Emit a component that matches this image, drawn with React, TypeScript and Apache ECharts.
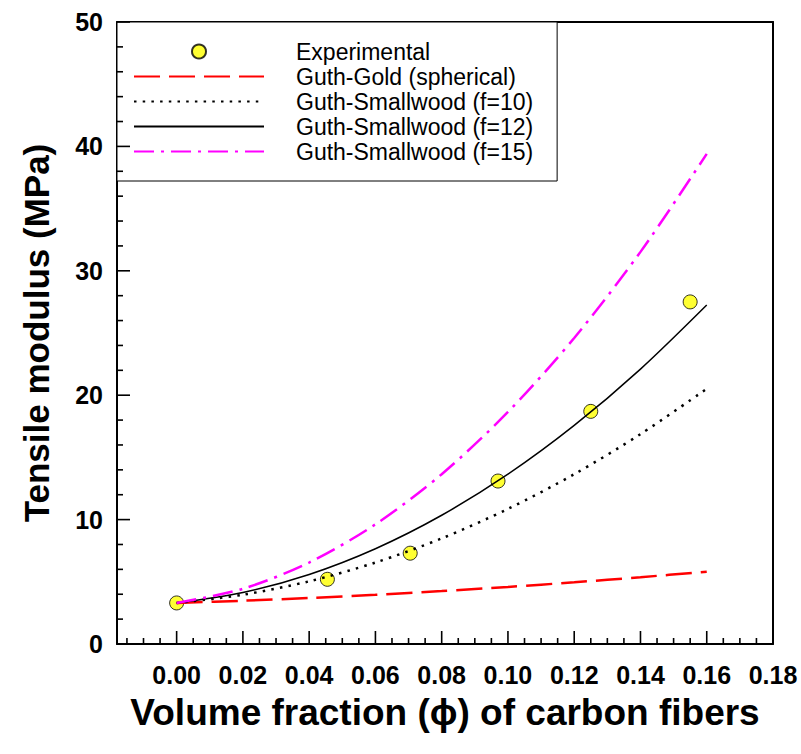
import React, { useEffect, useRef } from 'react';
import * as echarts from 'echarts';

// Experimental data
const expPhi = [0, 0.0455, 0.0705, 0.097, 0.125, 0.155];
const expModulus = [3.3, 5.2, 7.3, 13.1, 18.7, 27.5];

// Model curves
const modelPhi = [0, 0.02, 0.04, 0.06, 0.08, 0.1, 0.12, 0.14, 0.16];
const guthGold = [3.3, 3.48, 3.7, 3.96, 4.26, 4.59, 4.96, 5.37, 5.81];
const guthSmallwood10 = [3.3, 3.96, 5.04, 6.55, 8.49, 10.86, 13.65, 16.87, 20.52];
const guthSmallwood12 = [3.3, 4.14, 5.59, 7.66, 10.35, 13.65, 17.57, 22.1, 27.25];
const guthSmallwood15 = [3.3, 4.44, 6.55, 9.62, 13.65, 18.65, 24.6, 31.52, 39.4];

const seriesNames = [
  'Experimental',
  'Guth-Gold (spherical)',
  'Guth-Smallwood (f=10)',
  'Guth-Smallwood (f=12)',
  'Guth-Smallwood (f=15)',
];

// Axis ticks (drawn inward, as in the reference)
const xMajorTicks = [0, 0.02, 0.04, 0.06, 0.08, 0.1, 0.12, 0.14, 0.16, 0.18];
const xMinorTicks = [
  -0.015, -0.01, -0.005,
  0.005, 0.01, 0.015, 0.025, 0.03, 0.035, 0.045, 0.05, 0.055, 0.065, 0.07, 0.075,
  0.085, 0.09, 0.095, 0.105, 0.11, 0.115, 0.125, 0.13, 0.135, 0.145, 0.15, 0.155,
  0.165, 0.17, 0.175,
];
const yMajorTicks = [0, 10, 20, 30, 40, 50];
const yMinorTicks = [2, 4, 6, 8, 12, 14, 16, 18, 22, 24, 26, 28, 32, 34, 36, 38, 42, 44, 46, 48];

const X_MIN = -0.018;
const X_MAX = 0.18;
const Y_MIN = 0;
const Y_MAX = 50;

const FONT = "Arial, 'Liberation Sans', Helvetica, sans-serif";

const pair = (xs: number[], ys: number[]) => xs.map((x, i) => [x, ys[i]]);

export default function App() {
  const ref = useRef<HTMLDivElement>(null);

  useEffect(() => {
    const chart = echarts.init(ref.current!, null, { renderer: 'svg' });
    const lineSeries = (name: string, ys: number[], lineStyle: any) => ({
      name,
      type: 'line',
      xAxisIndex: 0,
      yAxisIndex: 0,
      data: pair(modelPhi, ys),
      smooth: 0.3,
      symbol: 'none',
      showSymbol: false,
      lineStyle,
      itemStyle: { color: lineStyle.color },
      z: 3,
    });
    const frameLine = () => ({ show: true, onZero: false, lineStyle: { color: '#000', width: 2 } });
    chart.setOption({
      animation: false,
      backgroundColor: '#fff',
      grid: { left: 117, right: 28, top: 22, bottom: 110, containLabel: false },
      legend: {
        orient: 'vertical',
        left: 117,
        top: 22,
        padding: [17, 24, 17, 16],
        itemWidth: 130,
        itemHeight: 14,
        itemGap: 0,
        backgroundColor: '#fff',
        borderColor: '#000',
        borderWidth: 1,
        borderRadius: 0,
        selectedMode: false,
        z: 5,
        textStyle: {
          fontSize: 23,
          lineHeight: 25,
          color: '#000',
          fontFamily: FONT,
          padding: [0, 0, 0, 27],
        },
        data: [
          { name: seriesNames[0], icon: 'circle' },
          { name: seriesNames[1], itemStyle: { opacity: 0 } },
          { name: seriesNames[2], itemStyle: { opacity: 0 } },
          { name: seriesNames[3], itemStyle: { opacity: 0 } },
          { name: seriesNames[4], itemStyle: { opacity: 0 } },
        ],
      },
      xAxis: [
        {
          type: 'value',
          min: X_MIN,
          max: X_MAX,
          splitNumber: 10,
          position: 'bottom',
          name: 'Volume fraction (\u03d5) of carbon fibers',
          nameLocation: 'middle',
          nameGap: 50,
          nameTextStyle: { fontSize: 37, fontWeight: 'bold', color: '#000', fontFamily: FONT },
          axisLine: frameLine(),
          axisTick: { show: false },
          splitLine: { show: false },
          axisLabel: {
            showMinLabel: false,
            margin: 18,
            fontSize: 25,
            fontWeight: 'bold',
            color: '#000',
            fontFamily: FONT,
            formatter: (v: number) => {
              const k = Math.round(v / 0.02);
              return Math.abs(v - k * 0.02) < 1e-9 && v >= 0 ? v.toFixed(2) : '';
            },
          },
        },
        {
          type: 'value',
          min: X_MIN,
          max: X_MAX,
          position: 'top',
          axisLine: frameLine(),
          axisTick: { show: false },
          axisLabel: { show: false },
          splitLine: { show: false },
        },
      ],
      yAxis: [
        {
          type: 'value',
          min: Y_MIN,
          max: Y_MAX,
          interval: 10,
          position: 'left',
          name: 'Tensile modulus (MPa)',
          nameLocation: 'middle',
          nameGap: 63,
          nameRotate: 90,
          nameTextStyle: { fontSize: 35, fontWeight: 'bold', color: '#000', fontFamily: FONT },
          axisLine: frameLine(),
          axisTick: { show: false },
          splitLine: { show: false },
          axisLabel: {
            margin: 14,
            fontSize: 25,
            fontWeight: 'bold',
            color: '#000',
            fontFamily: FONT,
          },
        },
        {
          type: 'value',
          min: Y_MIN,
          max: Y_MAX,
          position: 'right',
          axisLine: frameLine(),
          axisTick: { show: false },
          axisLabel: { show: false },
          splitLine: { show: false },
        },
      ],
      series: [
        {
          name: seriesNames[0],
          type: 'scatter',
          xAxisIndex: 0,
          yAxisIndex: 0,
          data: pair(expPhi, expModulus),
          symbol: 'circle',
          symbolSize: 14,
          itemStyle: { color: '#ffff00', borderColor: '#000', borderWidth: 1 },
          z: 2,
        },
        lineSeries(seriesNames[1], guthGold, { color: '#ff0000', width: 2.5, type: [26, 9] }),
        lineSeries(seriesNames[2], guthSmallwood10, { color: '#000', width: 2.5, type: [2.5, 6.2] }),
        lineSeries(seriesNames[3], guthSmallwood12, { color: '#000', width: 1.5, type: 'solid' }),
        lineSeries(seriesNames[4], guthSmallwood15, { color: '#ff00ff', width: 2.5, type: [20, 7, 3, 7] }),
      ],
    });

    // Inward ticks as thin filled bars, placed through the chart's own scales
    const toPx = (x: number, y: number) =>
      chart.convertToPixel({ xAxisIndex: 0, yAxisIndex: 0 }, [x, y]) as number[];
    const tickEls: any[] = [];
    const TW = 1.6;
    const addX = (vals: number[], len: number) =>
      vals.forEach((v) => {
        const p = toPx(v, Y_MIN);
        tickEls.push({
          type: 'rect',
          z: 100,
          silent: true,
          shape: { x: p[0] - TW / 2, y: p[1] - len, width: TW, height: len },
          style: { fill: '#000' },
        });
      });
    const addY = (vals: number[], len: number) =>
      vals.forEach((v) => {
        const p = toPx(X_MIN, v);
        tickEls.push({
          type: 'rect',
          z: 100,
          silent: true,
          shape: { x: p[0], y: p[1] - TW / 2, width: len, height: TW },
          style: { fill: '#000' },
        });
      });
    addX(xMajorTicks, 13);
    addX(xMinorTicks, 6);
    addY(yMajorTicks, 13);
    addY(yMinorTicks, 6);
    chart.setOption({ graphic: { elements: tickEls } });

    return () => chart.dispose();
  }, []);

  return (
    <div
      ref={ref}
      style={{ position: 'absolute', left: 0, top: 0, width: 801, height: 754, background: '#fff' }}
    />
  );
}
